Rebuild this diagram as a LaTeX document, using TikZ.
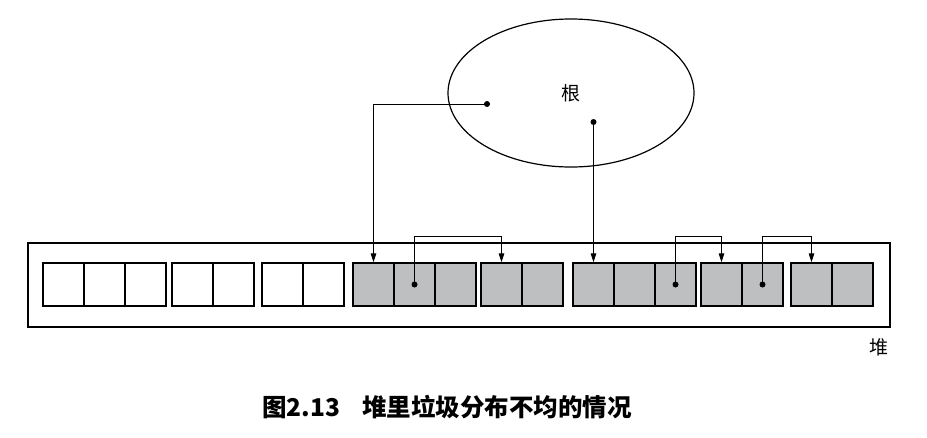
\documentclass[tikz,border=0pt]{standalone}
\usepackage{fontspec}
\newfontfamily\cjk{Noto Sans CJK SC}
\usetikzlibrary{shapes.geometric,arrows.meta}
\definecolor{cellgray}{RGB}{190,191,193}
\begin{document}
\begin{tikzpicture}[x=1pt,y=-1pt,
  cell/.style={draw,line width=1.4pt,minimum width=41pt,minimum height=43pt,inner sep=0pt,fill=#1},
  cell/.default=white,
  link/.style={line width=1pt,-{Triangle[length=9pt,width=5.5pt]}},
  dot/.style={circle,fill,inner sep=0pt,minimum size=6pt}]
\useasboundingbox (0,0) rectangle (927,437);
% heap and its label
\node[draw,line width=1.4pt,minimum width=862pt,minimum height=84pt,inner sep=0pt] (heap) at (459,285) {};
\node[font=\cjk\fontsize{19}{19}\selectfont] (heaplabel) at (879,347) {堆};
% objects in the heap
\foreach \g/\x/\n/\f in {1/43/3/white,2/172/2/white,3/262/2/white,4/353/3/cellgray,%
  5/481/2/cellgray,6/573/3/cellgray,7/701/2/cellgray,8/791/2/cellgray} {
  \foreach \i in {1,...,\n}
    \node[cell=\f] (c\g\i) at (\x+41*\i-20.5,284.5) {};
}
% root set
\node[ellipse,draw,line width=1.2pt,minimum width=246pt,minimum height=148pt,
  font=\cjk\fontsize{19}{19}\selectfont] (root) at (571,93) {根};
\node[dot] (r1) at (487,104) {};
\node[dot] (r2) at (593.5,122) {};
\node[dot] (d42) at (c42) {};
\node[dot] (d63) at (c63) {};
\node[dot] (d72) at (c72) {};
\coordinate (wire) at (0,236);
% pointers
\draw[link] (r1.center) -| (c41.north);
\draw[link] (r2.center) -- (c61.north);
\foreach \s/\t in {d42/c51,d63/c71,d72/c81}
  \draw[link] (\s.center) -- (\s |- wire) -| (\t.north);
% caption
\node[font=\cjk\bfseries\fontsize{24.5}{24.5}\selectfont] (caption) at (447,407)
  {图2.13\hspace{22pt}堆里垃圾分布不均的情况};
\end{tikzpicture}
\end{document}
